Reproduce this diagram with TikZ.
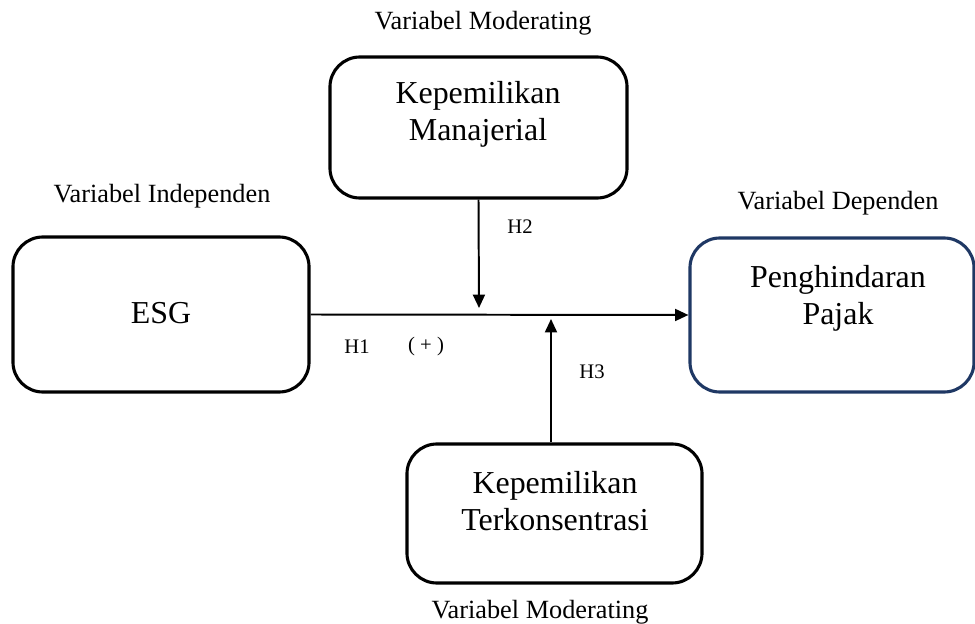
\documentclass[tikz,border=0pt]{standalone}
\usepackage{fontspec}
\setmainfont{Liberation Serif}
\usetikzlibrary{arrows.meta}
\definecolor{navy}{HTML}{1F3864}
\tikzset{
  varbox/.style={draw, line width=2.2pt, rounded corners=0.75cm, inner sep=0pt},
  bigtxt/.style={align=center, font=\fontsize{22.7}{26.5}\selectfont},
  vartxt/.style={font=\fontsize{18.7}{22}\selectfont},
  hyptxt/.style={font=\fontsize{14.7}{17}\selectfont},
  link/.style={line width=1.4pt, -{Triangle[length=9.5pt,width=8.5pt]}}
}
\begin{document}
\begin{tikzpicture}[x=0.025cm, y=-0.025cm]
		\useasboundingbox (0,0) rectangle (975,624);
		% boxes
		\node[varbox, minimum width=7.4cm, minimum height=3.875cm] (esg) at (161,314.5) {};
		\node[varbox, minimum width=7.425cm, minimum height=3.525cm] (mgr) at (478.5,127.5) {};
		\node[varbox, minimum width=7.375cm, minimum height=3.475cm] (kons) at (554.5,513.5) {};
		\node[varbox, draw=navy, minimum width=7.1cm, minimum height=3.85cm] (dep) at (832,315) {};

		\node[bigtxt] (esgtxt) at (161,313) {ESG};
		\node[bigtxt] (mgrtxt) at (478,114) {Kepemilikan\\Manajerial};
		\node[bigtxt] (konstxt) at (555,501) {Kepemilikan\\Terkonsentrasi};
		\node[bigtxt] (deptxt) at (838,298) {Penghindaran\\Pajak};

		% variable labels
		\node[vartxt] (lind) at (162,196) {Variabel Independen};
		\node[vartxt] (ldep) at (838,203) {Variabel Dependen};
		\node[vartxt] (lmod1) at (483,23) {Variabel Moderating};
		\node[vartxt] (lmod2) at (540,612) {Variabel Moderating};

		% arrows
		\coordinate (h2tip) at (479,308);
		\coordinate (h3tip) at (551,319);
		\draw[link] (esg.east) -- (dep.west);
		\draw[link] (mgr.south) -- (h2tip);
		\draw[link] (kons.north -| h3tip) -- (h3tip);

		\node[hyptxt] (h1) at (357,347) {H1};
		\node[hyptxt] (sign) at (426,347) {( + )};
		\node[hyptxt] (h2) at (520,227) {H2};
		\node[hyptxt] (h3) at (592,372) {H3};
\end{tikzpicture}
\end{document}
